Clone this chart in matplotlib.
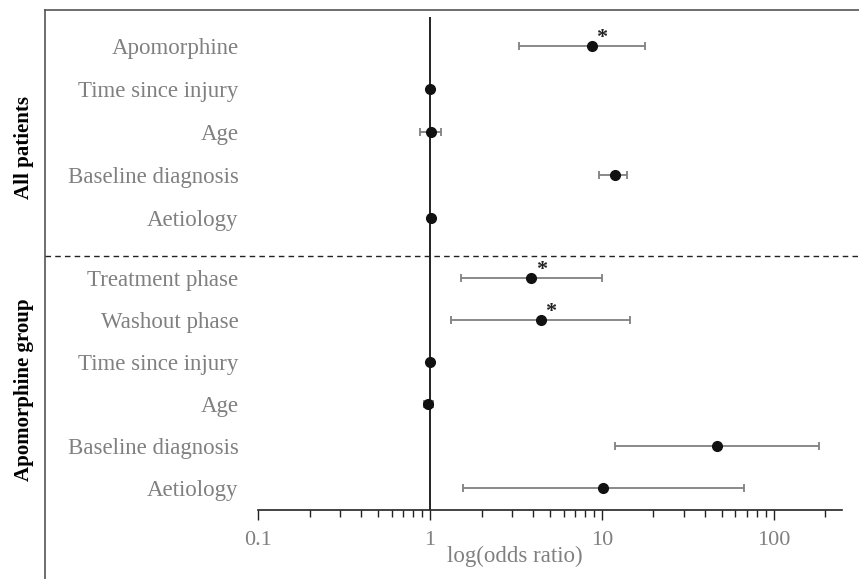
import matplotlib
matplotlib.use('Agg')
from matplotlib import pyplot as plt
from matplotlib.transforms import blended_transform_factory
from matplotlib.ticker import LogLocator, NullFormatter, FixedLocator, FixedFormatter

plt.rcParams['font.family'] = ['Liberation Serif', 'DejaVu Serif']

# all patients
all_labels = ['Apomorphine', 'Time since injury', 'Age', 'Baseline diagnosis', 'Aetiology']
all_or = [8.8, 1.0, 1.02, 12.0, 1.01]
all_lo = [3.3, 1.0, 0.88, 9.7, 1.01]
all_hi = [17.8, 1.0, 1.16, 14.0, 1.01]
all_sig = [True, False, False, False, False]

# apomorphine group
apo_labels = ['Treatment phase', 'Washout phase', 'Time since injury', 'Age',
              'Baseline diagnosis', 'Aetiology']
apo_or = [3.9, 4.42, 1.0, 0.98, 46.9, 10.2]
apo_lo = [1.51, 1.32, 1.0, 0.92, 11.9, 1.55]
apo_hi = [10.0, 14.7, 1.0, 1.045, 184.0, 67.5]
apo_sig = [True, True, False, False, False, False]

grey = '#808080'

fig = plt.figure(figsize=(8.59, 5.79), dpi=100)

# outer frame (left and top lines)
frame = fig.add_axes([45 / 859, 0, 1 - 45 / 859, 1 - 10 / 579])
frame.set_xticks([])
frame.set_yticks([])
for s in ['right', 'bottom']:
    frame.spines[s].set_visible(False)
for s in ['left', 'top']:
    frame.spines[s].set_color('#555555')
    frame.spines[s].set_linewidth(1.2)
frame.patch.set_alpha(0)

ax = fig.add_axes([258 / 859, 69 / 579, 584 / 859, 493 / 579])
ax.patch.set_alpha(0)

labels = all_labels + apo_labels
ors = all_or + apo_or
los = all_lo + apo_lo
his = all_hi + apo_hi
sig = all_sig + apo_sig
ys = [i * 1.01 for i in range(len(all_labels))] + \
     [5.46 + i * 0.99 for i in range(len(apo_labels))]

xerr = [[o - l for o, l in zip(ors, los)], [h - o for o, h in zip(ors, his)]]
ax.errorbar(ors, ys, xerr=xerr, fmt='none', ecolor=grey, elinewidth=1.3,
            capsize=3, capthick=1.3, zorder=2)
ax.plot(ors, ys, 'o', color='#111111', markersize=7, zorder=3)
for o, y, s in zip(ors, ys, sig):
    if s:
        ax.annotate('*', (o, y), xytext=(7, 2), textcoords='offset points',
                    ha='center', va='baseline', fontsize=16, fontweight='bold',
                    color='#222222')

ax.axvline(1, color='#111111', lw=1.3, zorder=1)

ax.set_xscale('log')
ax.set_xlim(0.1, 250)
ax.set_ylim(10.92, -0.68)

ax.set_yticks(ys)
ax.set_yticklabels(labels, fontsize=16.5, color=grey)
ax.tick_params(axis='y', length=0, pad=14)

ax.xaxis.set_major_locator(FixedLocator([0.1, 1, 10, 100]))
ax.xaxis.set_major_formatter(FixedFormatter(['0.1', '1', '10', '100']))
ax.xaxis.set_minor_locator(LogLocator(base=10, subs=range(2, 10)))
ax.xaxis.set_minor_formatter(NullFormatter())
ax.tick_params(axis='x', which='major', length=7, width=1, color='#222222',
               labelsize=16, labelcolor=grey, pad=8)
ax.tick_params(axis='x', which='minor', length=5, width=1, color='#222222')

for s in ['left', 'right', 'top']:
    ax.spines[s].set_visible(False)
ax.spines['bottom'].set_color('#222222')
ax.spines['bottom'].set_linewidth(1.2)

ax.text(0.44, -0.095, 'log(odds ratio)', transform=ax.transAxes,
        ha='center', va='center', fontsize=16.5, color=grey)

# separator between groups
tr = blended_transform_factory(fig.transFigure, ax.transData)
ax.plot([45 / 859, 1], [4.94, 4.94], transform=tr, clip_on=False,
        color='#222222', lw=1, ls=(0, (4, 3)))

ax.text(24 / 859, 2.38, 'All patients', transform=tr, rotation=90,
        ha='center', va='center', fontsize=15, fontweight='bold')
ax.text(24 / 859, 8.1, 'Apomorphine group', transform=tr, rotation=90,
        ha='center', va='center', fontsize=15, fontweight='bold')

fig.savefig('out.png', dpi=100)
